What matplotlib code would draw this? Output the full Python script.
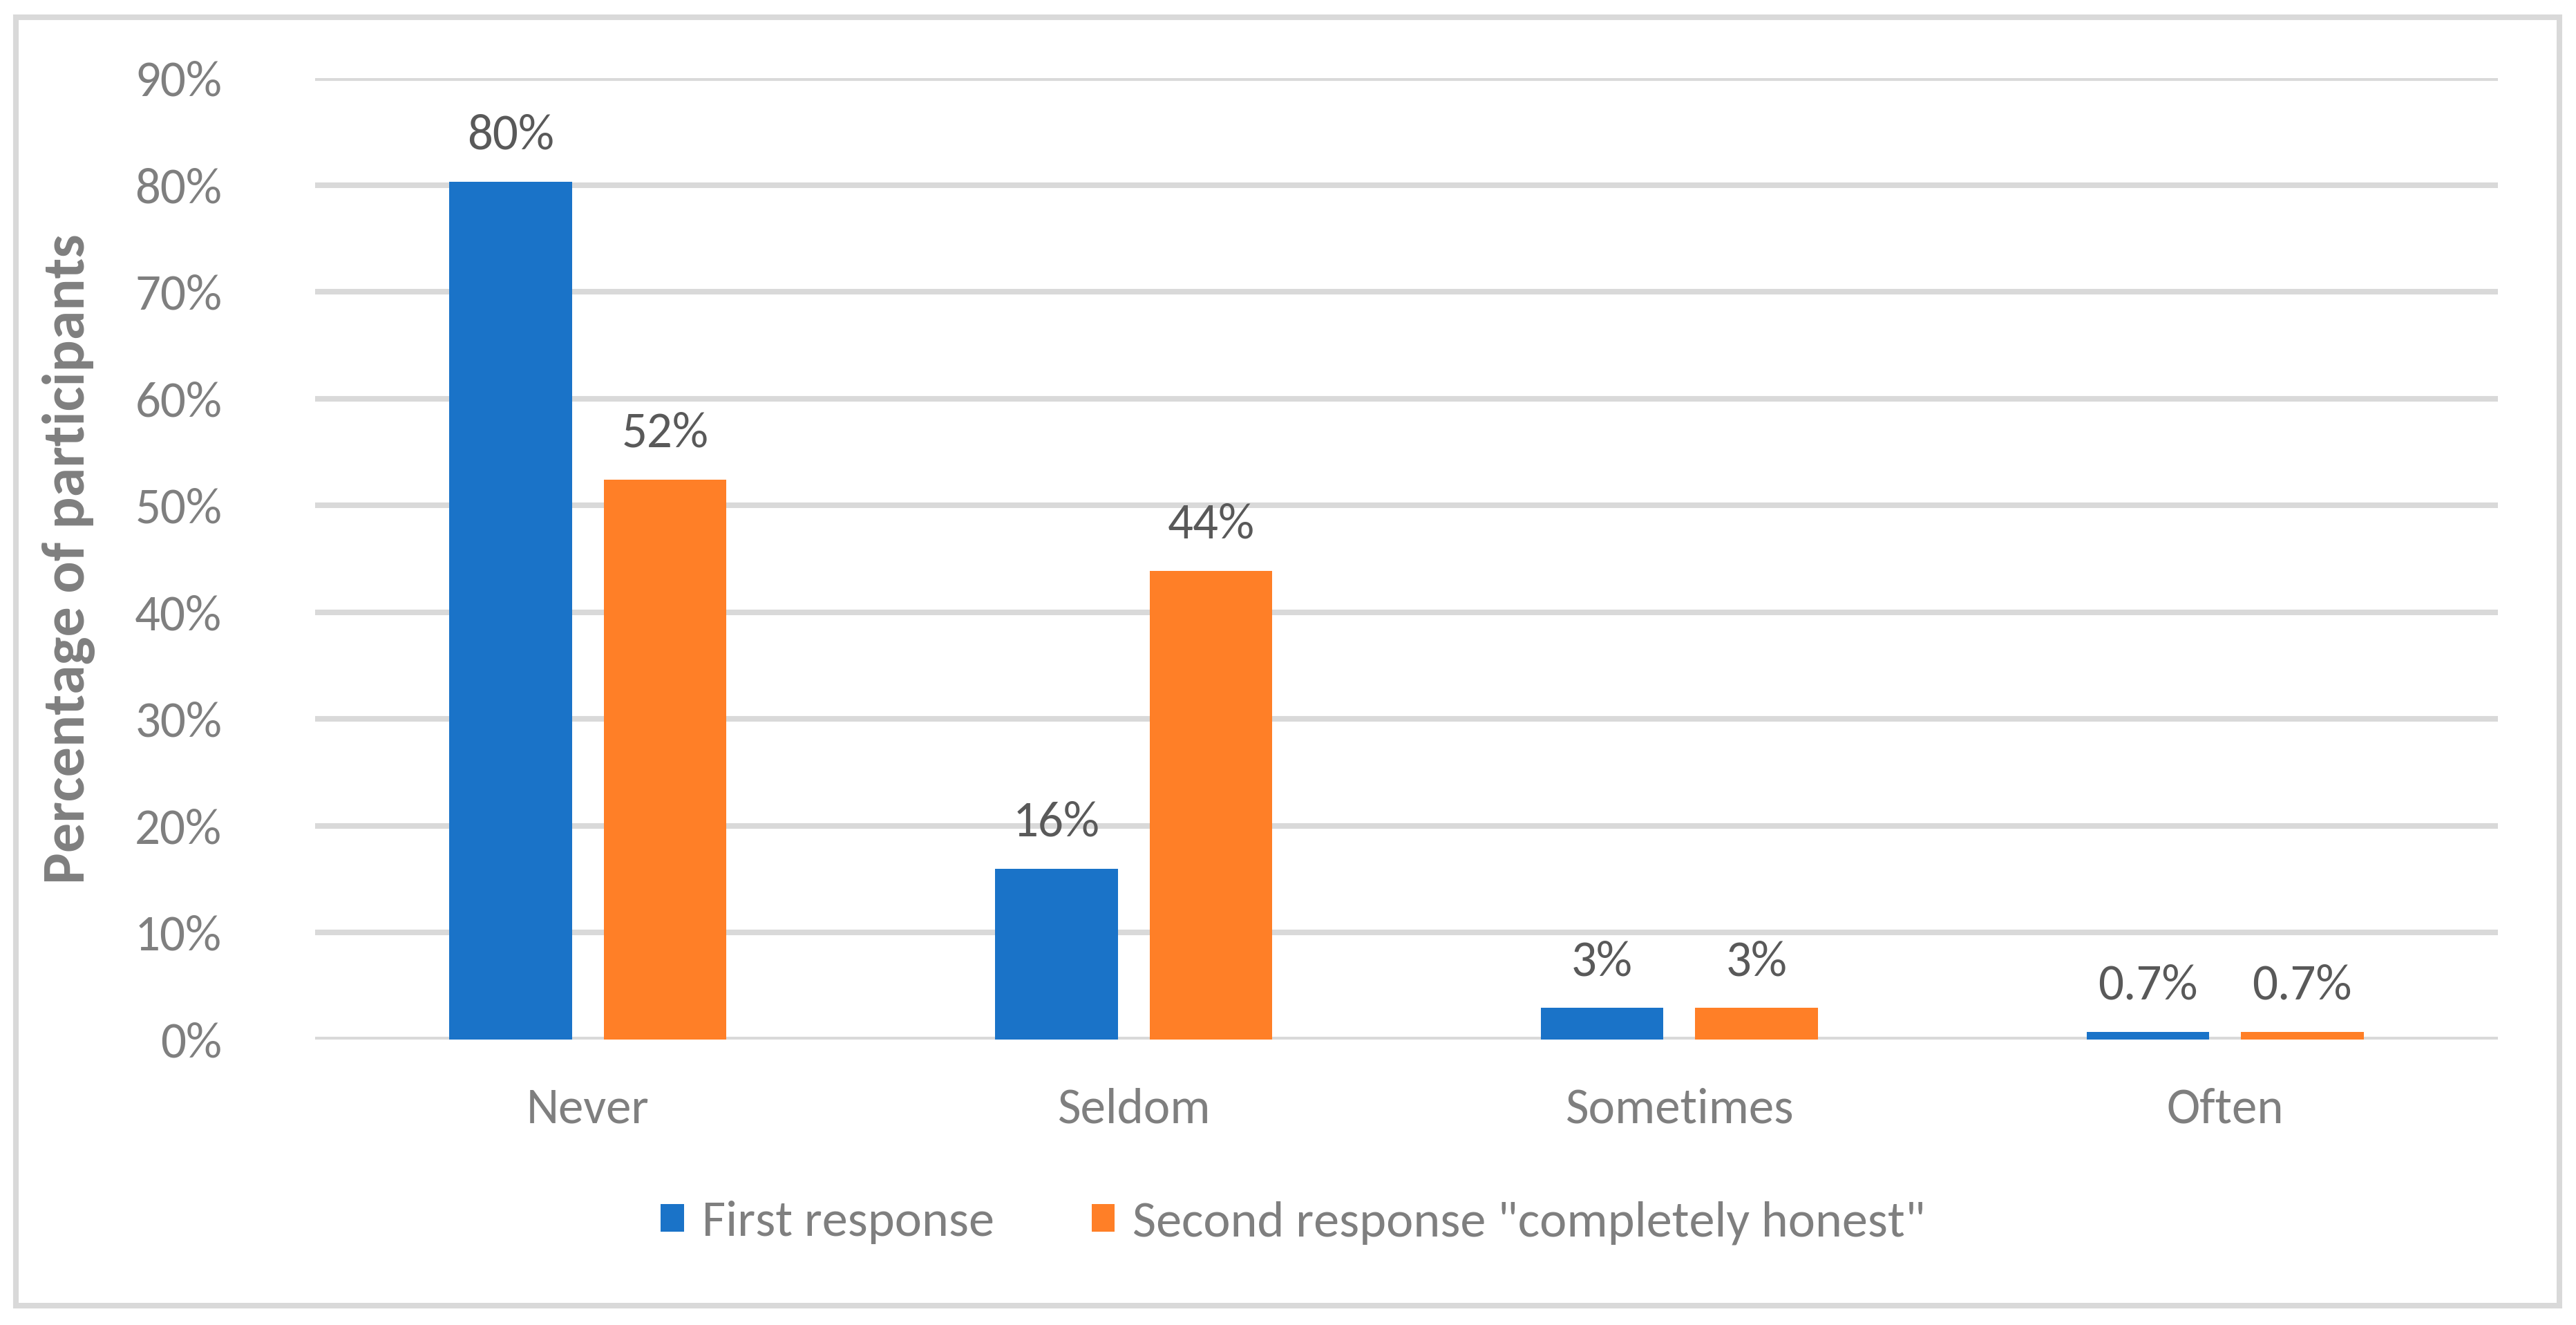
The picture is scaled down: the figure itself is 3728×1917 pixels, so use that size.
import matplotlib
matplotlib.use("Agg")
import matplotlib.pyplot as plt
from matplotlib import font_manager
from matplotlib.patches import Patch, Rectangle
import numpy as np

categories = ["Never", "Seldom", "Sometimes", "Often"]
first_response = [80.3, 16.0, 2.95, 0.7]
second_response = [52.4, 43.9, 2.95, 0.7]
first_labels = ["80%", "16%", "3%", "0.7%"]
second_labels = ["52%", "44%", "3%", "0.7%"]
series_names = ["First response", 'Second response "completely honest"']
y_ticks = [0, 10, 20, 30, 40, 50, 60, 70, 80, 90]
y_ticklabels = [f"{v}%" for v in y_ticks]

BLUE = "#1A73C8"
ORANGE = "#FF7F27"
GRID = "#D9D9D9"
TXT = "#7F7F7F"
DTXT = "#595959"

names = {f.name for f in font_manager.fontManager.ttflist}
if "Carlito" in names:
    FAM = "Carlito"
    FS, FS_LEG, FS_YL = 52.5, 53.5, 62
else:
    FAM = "Liberation Sans"
    FS, FS_LEG, FS_YL = 47.5, 49, 54
plt.rcParams["font.family"] = [FAM, "DejaVu Sans"]

W, H = 3728, 1917
DPI = 100
fig = plt.figure(figsize=(W / DPI, H / DPI), dpi=DPI)

# axes placement (pixels)
left, right, bottom0, top90 = 456, 3615, 1504, 113
ax = fig.add_axes([left / W, 1 - bottom0 / H, (right - left) / W, (bottom0 - top90) / H])

x = np.arange(len(categories))
bw = 0.225
off = bw / 2 + 0.029
b1 = ax.bar(x - off, first_response, bw, color=BLUE, zorder=3)
b2 = ax.bar(x + off, second_response, bw, color=ORANGE, zorder=3)

for bars, labs in ((b1, first_labels), (b2, second_labels)):
    for r, lab in zip(bars, labs):
        ax.annotate(lab, (r.get_x() + r.get_width() / 2, r.get_height()),
                    xytext=(0, 34), textcoords="offset points",
                    ha="center", va="baseline", fontsize=FS, color=DTXT)

ax.set_xlim(-0.5, len(categories) - 0.5)
ax.set_ylim(0, 90)
ax.set_yticks(y_ticks)
ax.set_yticklabels(y_ticklabels)
ax.set_xticks(x)
ax.set_xticklabels(categories)
ax.tick_params(axis="both", length=0, labelsize=FS, labelcolor=TXT)
ax.tick_params(axis="y", pad=97)
ax.tick_params(axis="x", pad=50)
ax.grid(axis="y", color=GRID, linewidth=5.8, zorder=0)
ax.set_axisbelow(True)
for s in ax.spines.values():
    s.set_visible(False)

ax.set_ylabel("Percentage of participants", fontsize=FS_YL, fontweight="bold", color=TXT)
ax.yaxis.set_label_coords((138 - left) / (right - left), 0.5)

handles = [Patch(facecolor=BLUE, edgecolor="none"), Patch(facecolor=ORANGE, edgecolor="none")]
leg = fig.legend(handles, series_names, loc="center", bbox_to_anchor=(0.502, 1 - 1769 / H),
                 ncol=2, frameon=False, fontsize=FS_LEG, handlelength=0.45, handleheight=0.45,
                 handletextpad=0.35, columnspacing=1.9, borderaxespad=0)
for t in leg.get_texts():
    t.set_color(TXT)

# outer frame
fig.patches.append(Rectangle((23 / W, 1 - 1889 / H), (3704 - 23) / W, (1889 - 25) / H,
                             transform=fig.transFigure, fill=False, edgecolor=GRID,
                             linewidth=5.8, zorder=0))

fig.savefig("out.png", dpi=DPI, facecolor="white")
